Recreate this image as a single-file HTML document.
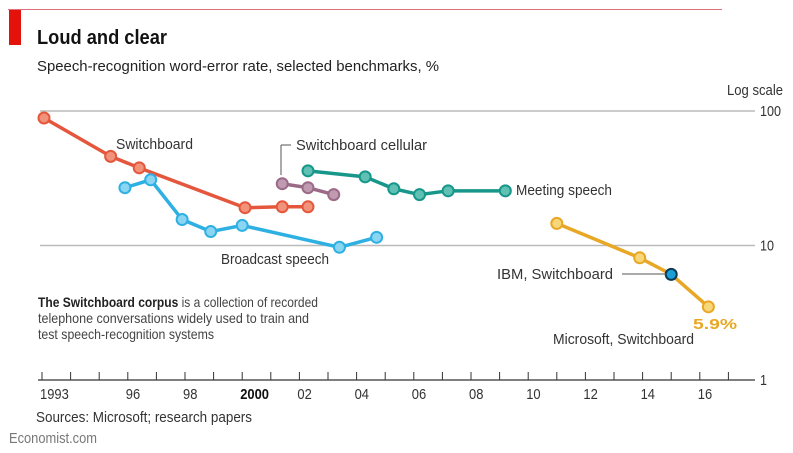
<!DOCTYPE html>
<html><head><meta charset="utf-8">
<style>
body{margin:0;background:#fff;}
svg{display:block;font-family:"Liberation Sans Narrow","Liberation Sans",sans-serif;}
</style></head>
<body>
<svg id="chart" width="793" height="453" viewBox="0 0 793 453">
<line x1="8" y1="9.5" x2="722" y2="9.5" stroke="#e0707a" stroke-width="1"/>
<rect x="9" y="10" width="12" height="35" fill="#e3120b"/>
<text x="37" y="44" font-family="Liberation Sans" font-weight="bold" font-size="20" fill="#121212" textLength="130" lengthAdjust="spacingAndGlyphs">Loud and clear</text>
<text x="37" y="71" font-size="15" fill="#222" textLength="402" lengthAdjust="spacingAndGlyphs">Speech-recognition word-error rate, selected benchmarks, %</text>
<text x="783" y="95" font-size="15" fill="#333" text-anchor="end" textLength="56" lengthAdjust="spacingAndGlyphs">Log scale</text>
<g id="grid"></g>
<g id="xaxis"></g>
<g id="series"></g>
<text x="116" y="149" font-size="15" fill="#333" textLength="77" lengthAdjust="spacingAndGlyphs">Switchboard</text>
<line x1="281" y1="145" x2="281" y2="175" stroke="#555"/>
<line x1="281" y1="145" x2="291" y2="145" stroke="#555"/>
<text x="296" y="150" font-size="15" fill="#333" textLength="131" lengthAdjust="spacingAndGlyphs">Switchboard cellular</text>
<text x="516" y="195" font-size="15" fill="#333" textLength="96" lengthAdjust="spacingAndGlyphs">Meeting speech</text>
<text x="221" y="264" font-size="15" fill="#333" textLength="108" lengthAdjust="spacingAndGlyphs">Broadcast speech</text>
<text x="497" y="279" font-size="15" fill="#333" textLength="116" lengthAdjust="spacingAndGlyphs">IBM, Switchboard</text>
<line x1="622" y1="274" x2="666" y2="274" stroke="#555"/>
<text x="693" y="329" font-family="Liberation Sans" font-weight="bold" font-size="15" fill="#e8a825" textLength="44" lengthAdjust="spacingAndGlyphs">5.9%</text>
<text x="553" y="344" font-size="15" fill="#333" textLength="141" lengthAdjust="spacingAndGlyphs">Microsoft, Switchboard</text>
<text x="38" y="307" font-size="14" fill="#444" textLength="280" lengthAdjust="spacingAndGlyphs"><tspan font-weight="bold" fill="#222">The Switchboard corpus</tspan> is a collection of recorded</text>
<text x="38" y="323" font-size="14" fill="#444" textLength="271" lengthAdjust="spacingAndGlyphs">telephone conversations widely used to train and</text>
<text x="38" y="339" font-size="14" fill="#444" textLength="176" lengthAdjust="spacingAndGlyphs">test speech-recognition systems</text>
<text x="36" y="422" font-size="15" fill="#333" textLength="216" lengthAdjust="spacingAndGlyphs">Sources: Microsoft; research papers</text>
<text x="9" y="443" font-size="15" fill="#777" textLength="88" lengthAdjust="spacingAndGlyphs">Economist.com</text>
</svg>
<script>
const yTicks=[100,10,1];
const xTickLabels=[[1993,"1993"],[1996,"96"],[1998,"98"],[2000,"2000"],[2002,"02"],[2004,"04"],[2006,"06"],[2008,"08"],[2010,"10"],[2012,"12"],[2014,"14"],[2016,"16"]];
const switchboardYears=[1993.07,1995.4,1996.4,2000.1,2001.4,2002.3];
const switchboardVals=[88.7,46,37.8,19.1,19.4,19.4];
const broadcastYears=[1995.9,1996.8,1997.9,1998.9,2000,2003.4,2004.7];
const broadcastVals=[26.9,30.8,15.6,12.7,14.1,9.7,11.5];
const cellularYears=[2001.4,2002.3,2003.2];
const cellularVals=[28.8,26.9,23.9];
const meetingYears=[2002.3,2004.3,2005.3,2006.2,2007.2,2009.2];
const meetingVals=[35.9,32.4,26.4,23.9,25.5,25.5];
const recentYears=[2011.0,2013.9,2015.0,2016.3];
const recentVals=[14.6,8.1,6.1,3.5];
const NS="http://www.w3.org/2000/svg";
function X(yr){return 42+(yr-1993)*28.6;}
function Y(v){return 380-134.5*Math.log10(v);}
function mk(tag,attrs,parent){const e=document.createElementNS(NS,tag);for(const k in attrs)e.setAttribute(k,attrs[k]);parent.appendChild(e);return e;}
const grid=document.getElementById('grid');
yTicks.forEach(v=>{
  if(v>1){const l=mk('line',{x1:40,x2:755,y1:Y(v),y2:Y(v),stroke:'#bbb','stroke-width':1.5},grid);
  
  }
  const t=mk('text',{x:760,y:Y(v)+5,'font-size':15,fill:'#333',textLength:String(v).length*7,lengthAdjust:'spacingAndGlyphs'},grid);
  t.textContent=v;
  
  
});
const xa=document.getElementById('xaxis');
const ax=mk('line',{x1:38,x2:755,y1:380,y2:380,stroke:'#333','stroke-width':1.2},xa);


for(let yr=1993;yr<=2017;yr++){
  const tk=mk('line',{x1:X(yr),x2:X(yr),y1:372,y2:380,stroke:'#333'},xa);
  
  
}
xTickLabels.forEach(([yr,lab])=>{
  const t=mk('text',{x:X(yr)-2,y:399,'font-size':15,fill:'#333',textLength:lab.length*7.2,lengthAdjust:'spacingAndGlyphs'},xa);
  if(lab==="2000"){t.setAttribute('font-weight','bold');t.setAttribute('fill','#111');}
  t.textContent=lab;
  
  
});
const sg=document.getElementById('series');
function series(name,yrs,vals,color,fill,special){
  const g=mk('g',{},sg);
  
  
  const p=mk('polyline',{points:yrs.map((y,i)=>X(y)+','+Y(vals[i])).join(' '),fill:'none',stroke:color,'stroke-width':3.5},g);
  
  
  yrs.forEach((y,i)=>{
    const sp=special&&i===special.i;
    const c=mk('circle',{cx:X(y),cy:Y(vals[i]),r:5.5,fill:sp?special.fill:fill,stroke:sp?special.stroke:color,'stroke-width':2},g);
    
    
  });
}
series('switchboard',switchboardYears,switchboardVals,'#e5573c','#f0937a');
series('broadcast',broadcastYears,broadcastVals,'#2fb0e2','#8ad5f2');
series('cellular',cellularYears,cellularVals,'#9b6a86','#c09ab0');
series('meeting',meetingYears,meetingVals,'#17968a','#5fc0b3');
series('recent-switchboard',recentYears,recentVals,'#e8a825','#f7d77a',{i:2,fill:'#1c9fd6',stroke:'#0b3a55'});
</script>
</body></html>
